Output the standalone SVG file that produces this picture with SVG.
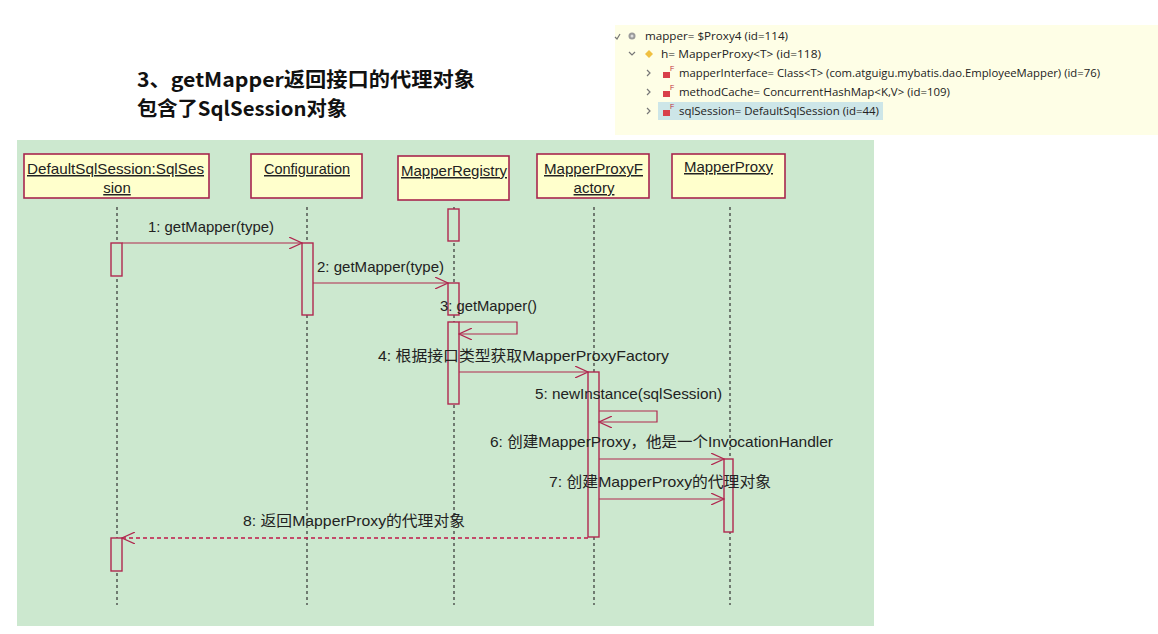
<svg xmlns="http://www.w3.org/2000/svg" width="1158" height="634" viewBox="0 0 1158 634">
<defs>
<style>
.hdr{fill:#ffffcc;stroke:#a8264e;stroke-width:1.6}
.act{fill:#cce8cf;stroke:#b0284f;stroke-width:1.4}
.life{stroke:#333;stroke-width:1.2;stroke-dasharray:3 3;fill:none}
.msg{stroke:#b0284f;stroke-width:1.2;fill:none}
.ret{stroke:#c0184a;stroke-width:1.3;fill:none;stroke-dasharray:4 3}
.ht{font-family:"Liberation Sans",Arial,sans-serif;font-size:15px;fill:#222;text-decoration:underline}
.mt{font-family:"Liberation Sans","Noto Sans CJK SC",sans-serif;font-size:15px;fill:#222}
.title{font-family:"Noto Sans CJK SC","Noto Sans",sans-serif;font-size:20px;font-weight:bold;fill:#111}
.pt{font-family:"Open Sans","Noto Sans",sans-serif;font-size:11.5px;fill:#222}
.chev{stroke:#777;stroke-width:1.2;fill:none}
</style>
<marker id="open" viewBox="0 0 14 12" refX="13" refY="6" markerWidth="14" markerHeight="12" markerUnits="userSpaceOnUse" orient="auto">
<path d="M0,0 L13,6 L0,12" fill="none" stroke="#b0284f" stroke-width="1.2"/>
</marker>
</defs>

<rect width="1158" height="634" fill="#ffffff"/>

<!-- debugger panel -->
<g id="panel">
<rect x="615" y="25" width="543" height="110" fill="#fefee6"/>
<rect x="658" y="102" width="225" height="18" fill="#cde6e8"/>
<path d="M615,37 L617,39 L620,34" class="chev"/>
<circle cx="632" cy="36" r="3.5" fill="#9a9a9a"/>
<circle cx="632" cy="36" r="1.5" fill="#ddd"/>
<text class="pt" x="645" y="40" textLength="143" lengthAdjust="spacingAndGlyphs">mapper= $Proxy4  (id=114)</text>
<path d="M629,52 L632,55 L635,52" class="chev"/>
<path d="M649,50 L653,54 L649,58 L645,54 Z" fill="#f0c040"/>
<text class="pt" x="661" y="58" textLength="160" lengthAdjust="spacingAndGlyphs">h= MapperProxy&lt;T&gt;  (id=118)</text>
<path d="M647,70 L650,73 L647,76" class="chev"/>
<rect x="663" y="72" width="7" height="6" fill="#d8404a"/>
<text x="670" y="71" font-family="Liberation Sans,sans-serif" font-size="7" fill="#c03040">F</text>
<text class="pt" x="679" y="77" textLength="421" lengthAdjust="spacingAndGlyphs">mapperInterface= Class&lt;T&gt; (com.atguigu.mybatis.dao.EmployeeMapper) (id=76)</text>
<path d="M647,89 L650,92 L647,95" class="chev"/>
<rect x="663" y="91" width="7" height="6" fill="#d8404a"/>
<text x="670" y="90" font-family="Liberation Sans,sans-serif" font-size="7" fill="#c03040">F</text>
<text class="pt" x="679" y="96" textLength="271" lengthAdjust="spacingAndGlyphs">methodCache= ConcurrentHashMap&lt;K,V&gt;  (id=109)</text>
<path d="M647,108 L650,111 L647,114" class="chev"/>
<rect x="663" y="110" width="7" height="6" fill="#d8404a"/>
<text x="670" y="109" font-family="Liberation Sans,sans-serif" font-size="7" fill="#c03040">F</text>
<text class="pt" x="679" y="115" textLength="200" lengthAdjust="spacingAndGlyphs">sqlSession= DefaultSqlSession  (id=44)</text>
</g>

<!-- title -->
<g id="title">
<text class="title" x="137" y="87" textLength="338" lengthAdjust="spacingAndGlyphs">3、getMapper返回接口的代理对象</text>
<text class="title" x="137" y="116" textLength="210" lengthAdjust="spacingAndGlyphs">包含了SqlSession对象</text>
</g>

<!-- sequence background -->
<rect x="17" y="140" width="857" height="486" fill="#cce8cf"/>

<!-- lifelines -->
<g id="lifelines">
<line class="life" x1="117" y1="207" x2="117" y2="605"/>
<line class="life" x1="307" y1="207" x2="307" y2="605"/>
<line class="life" x1="454" y1="207" x2="454" y2="605"/>
<line class="life" x1="594" y1="207" x2="594" y2="605"/>
<line class="life" x1="730" y1="207" x2="730" y2="605"/>
</g>

<g id="n-session">
<rect class="hdr" x="24" y="154" width="185" height="44"/>
<text class="ht" x="27" y="174" textLength="177" lengthAdjust="spacingAndGlyphs">DefaultSqlSession:SqlSes</text>
<text class="ht" x="117" y="193" text-anchor="middle">sion</text>
</g>
<g id="n-config">
<rect class="hdr" x="251" y="154" width="111" height="44"/>
<text class="ht" x="264" y="174" textLength="86" lengthAdjust="spacingAndGlyphs">Configuration</text>
</g>
<g id="n-registry">
<rect class="hdr" x="398" y="156" width="111" height="44"/>
<text class="ht" x="401" y="176" textLength="106" lengthAdjust="spacingAndGlyphs">MapperRegistry</text>
</g>
<g id="n-factory">
<rect class="hdr" x="537" y="154" width="112" height="44"/>
<text class="ht" x="544" y="174" textLength="99" lengthAdjust="spacingAndGlyphs">MapperProxyF</text>
<text class="ht" x="594" y="193" text-anchor="middle">actory</text>
</g>
<g id="n-proxy">
<rect class="hdr" x="672" y="154" width="113" height="44"/>
<text class="ht" x="684" y="172" textLength="89" lengthAdjust="spacingAndGlyphs">MapperProxy</text>
</g>

<!-- activations -->
<g id="activations">
<rect class="act" x="111" y="243" width="11" height="33"/>
<rect class="act" x="302" y="243" width="11" height="72"/>
<rect class="act" x="448" y="209" width="11" height="32"/>
<rect class="act" x="448" y="283" width="11" height="32"/>
<rect class="act" x="448" y="322" width="11" height="82"/>
<rect class="act" x="588" y="372" width="11" height="165"/>
<rect class="act" x="724" y="459" width="9" height="73"/>
<rect class="act" x="111" y="538" width="11" height="33"/>
</g>

<!-- connectors -->
<g id="connectors">
<line class="msg" x1="122" y1="243" x2="302" y2="243" marker-end="url(#open)"/>
<line class="msg" x1="313" y1="283" x2="448" y2="283" marker-end="url(#open)"/>
<path class="msg" d="M459,322 H517 V334 H459" marker-end="url(#open)"/>
<line class="msg" x1="459" y1="372" x2="588" y2="372" marker-end="url(#open)"/>
<path class="msg" d="M599,411 H657 V422 H599" marker-end="url(#open)"/>
<line class="msg" x1="599" y1="459" x2="724" y2="459" marker-end="url(#open)"/>
<line class="msg" x1="599" y1="499" x2="724" y2="499" marker-end="url(#open)"/>
<line class="ret" x1="588" y1="538" x2="122" y2="538" marker-end="url(#open)"/>
</g>

<g id="labels">
<text class="mt" x="148" y="232" textLength="126" lengthAdjust="spacingAndGlyphs">1: getMapper(type)</text>
<text class="mt" x="317" y="272" textLength="127" lengthAdjust="spacingAndGlyphs">2: getMapper(type)</text>
<text class="mt" x="440" y="311" textLength="97" lengthAdjust="spacingAndGlyphs">3: getMapper()</text>
<text class="mt" x="378" y="361" textLength="291" lengthAdjust="spacingAndGlyphs">4: 根据接口类型获取MapperProxyFactory</text>
<text class="mt" x="535" y="399" textLength="187" lengthAdjust="spacingAndGlyphs">5: newInstance(sqlSession)</text>
<text class="mt" x="490" y="447" textLength="343" lengthAdjust="spacingAndGlyphs">6: 创建MapperProxy，他是一个InvocationHandler</text>
<text class="mt" x="549" y="487" textLength="222" lengthAdjust="spacingAndGlyphs">7: 创建MapperProxy的代理对象</text>
<text class="mt" x="243" y="526" textLength="222" lengthAdjust="spacingAndGlyphs">8: 返回MapperProxy的代理对象</text>
</g>
</svg>
